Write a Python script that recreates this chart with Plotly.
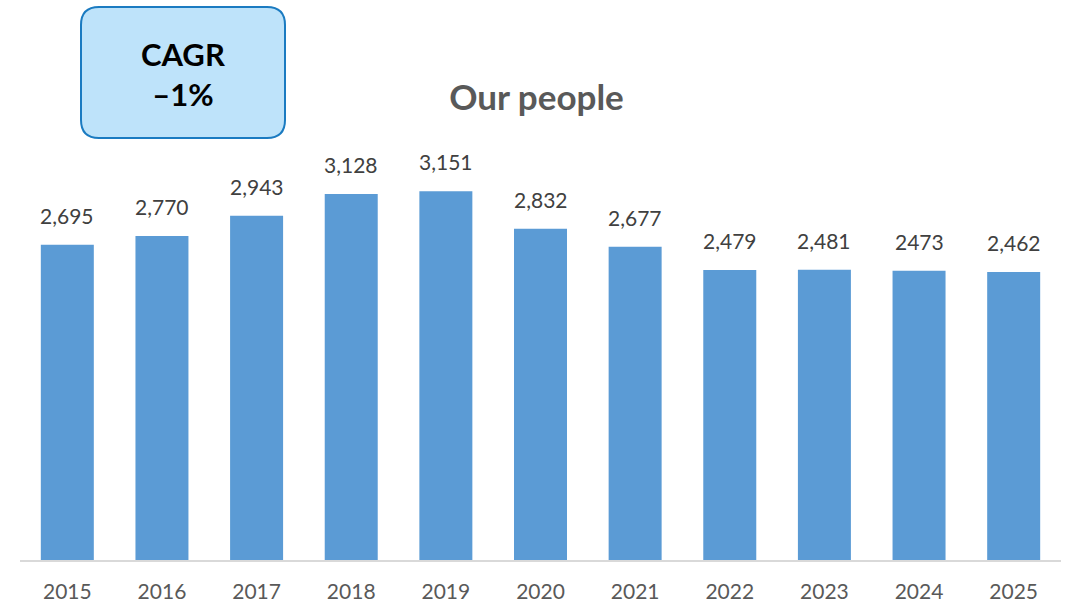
import plotly.graph_objects as go

years = ["2015", "2016", "2017", "2018", "2019", "2020", "2021", "2022", "2023", "2024", "2025"]
people = [2695, 2770, 2943, 3128, 3151, 2832, 2677, 2479, 2481, 2473, 2462]
labels = ["2,695", "2,770", "2,943", "3,128", "3,151", "2,832", "2,677", "2,479", "2,481", "2473", "2,462"]

W, H = 1073, 603
ML, MR, MT, MB = 20, 12, 120, 43
pw, ph = W - ML - MR, H - MT - MB

def px(x):
    return (x - ML) / pw

def py(y):
    return (H - MB - y) / ph

fig = go.Figure()
fig.add_trace(go.Bar(
    x=years, y=people,
    marker=dict(color="#5B9BD5", line=dict(width=0)),
    width=0.56,
    hoverinfo="x+y",
))

for i, (v, t) in enumerate(zip(people, labels)):
    fig.add_annotation(
        x=i, y=v, text=t, showarrow=False, yanchor="bottom", yshift=15,
        font=dict(family="Lato, 'Open Sans', sans-serif", size=21, color="#404040"),
    )

# rounded CAGR box
x0, x1, y0, y1, r = 81, 285, 7, 138, 18
rx, ry = r / pw, r / ph
X0, X1, Y0, Y1 = px(x0), px(x1), py(y1), py(y0)
path = (f"M {X0+rx},{Y1} L {X1-rx},{Y1} Q {X1},{Y1} {X1},{Y1-ry} "
        f"L {X1},{Y0+ry} Q {X1},{Y0} {X1-rx},{Y0} "
        f"L {X0+rx},{Y0} Q {X0},{Y0} {X0},{Y0+ry} "
        f"L {X0},{Y1-ry} Q {X0},{Y1} {X0+rx},{Y1} Z")
fig.add_shape(type="path", path=path, xref="paper", yref="paper",
              fillcolor="#BEE3FA", line=dict(color="#1B7BC1", width=2), layer="above")
fig.add_annotation(x=px((x0 + x1) / 2), y=py(74), xref="paper", yref="paper",
                   text="<b>CAGR</b><br><b>–1%</b>", showarrow=False, xanchor="center", yanchor="middle",
                   font=dict(family="Lato, sans-serif", size=31, color="#000000"))

fig.update_layout(
    width=W, height=H,
    margin=dict(l=ML, r=MR, t=MT, b=MB, autoexpand=False),
    paper_bgcolor="white", plot_bgcolor="white",
    title=dict(text="<b>Our people</b>", x=0.5, xanchor="center", y=1 - 98 / H, yanchor="middle",
               font=dict(family="Lato, sans-serif", size=35, color="#595959")),
    showlegend=False,
    bargap=0.44,
    xaxis=dict(type="category", range=[-0.5, 10.5], showgrid=False, showline=True,
               linecolor="#D9D9D9", linewidth=2,
               ticks="outside", ticklen=12, tickcolor="rgba(0,0,0,0)", automargin=False,
               tickfont=dict(family="Lato, 'Open Sans', sans-serif", size=21, color="#595959")),
    yaxis=dict(visible=False, range=[0, 440 / 0.117], showgrid=False, zeroline=False, automargin=False),
)

fig.write_html("out.html", config={"displayModeBar": False},
               post_script="document.body.style.margin='0';")
